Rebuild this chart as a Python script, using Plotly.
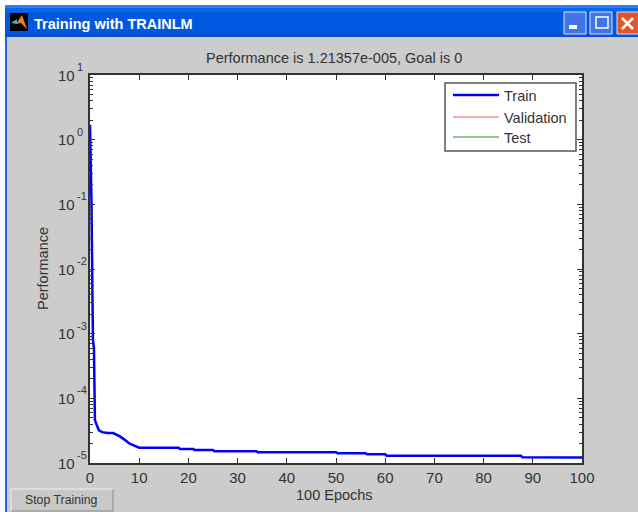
import plotly.graph_objects as go

epochs = [0, 0.3, 0.5, 0.6, 0.8, 0.9, 1, 1.4, 1.8, 2.5, 3.5, 4.7, 6, 7, 8, 9, 10, 18, 18.3, 21, 21.3, 25, 25.3, 33.8, 34.1, 50, 50.3, 56, 56.3, 60, 60.3, 87.6, 87.9, 100]
train = [1.7, 0.11, 0.004, 0.0008, 0.0006, 0.00007, 0.000046, 0.000038, 0.000032, 0.00003, 0.000029, 0.000029, 0.000026, 0.000023, 0.00002, 0.0000185, 0.00001724, 0.00001724, 0.00001646, 0.00001646, 0.00001589, 0.00001589, 0.00001517, 0.00001517, 0.00001464, 0.00001464, 0.00001413, 0.00001413, 0.00001363, 0.00001363, 0.00001297, 0.00001297, 0.00001225, 0.00001214]
legend_names = ["Train", "Validation", "Test"]
legend_colors = ["#0000ff", "#ff5555", "#338833"]
x_ticks = list(range(0, 101, 10))
y_powers = [1, 0, -1, -2, -3, -4, -5]
title = "Performance is 1.21357e-005, Goal is 0"
window_title = "Training with TRAINLM"

FONT = "Liberation Sans, Arial, sans-serif"
INK = "#333333"
W, H = 638, 512
def px(x): return x / W
def py(y): return 1 - y / H

minor = [m * 10 ** p for p in range(-5, 1) for m in range(2, 10)]
fig = go.Figure()
fig.add_trace(go.Scatter(x=epochs, y=train, mode="lines", line=dict(color="#0000ff", width=2.5),
                         showlegend=False, hoverinfo="skip", cliponaxis=False))

shapes = []
def rect(x0, y0, x1, y1, fill, line=None, width=0, layer="above"):
    shapes.append(dict(type="rect", xref="paper", yref="paper", x0=px(x0), x1=px(x1), y0=py(y0), y1=py(y1),
                       fillcolor=fill, line=dict(color=line or fill, width=width), layer=layer))
def seg(x0, y0, x1, y1, color, width=1.0):
    shapes.append(dict(type="line", xref="paper", yref="paper", x0=px(x0), x1=px(x1), y0=py(y0), y1=py(y1),
                       line=dict(color=color, width=width), layer="above"))

# window frame
rect(0, 0, 5, 512, "#ffffff")
rect(0, 0, 638, 5, "#ffffff")
rect(5, 5, 638, 37, "#0058e0")
rect(5, 5, 638, 8, "#2a80f0")
rect(5, 8, 638, 12, "#0a66ea")
rect(5, 34, 638, 37, "#0a4fd0")
rect(5, 37, 7, 512, "#1a68ee")
# app icon
rect(10, 13, 28, 31, "#000000")
shapes.append(dict(type="path", xref="paper", yref="paper", layer="above", line=dict(width=0), fillcolor="#f08020",
                   path=f"M {px(16)} {py(24)} L {px(22)} {py(15)} L {px(27)} {py(29)} L {px(21)} {py(23)} Z"))
shapes.append(dict(type="path", xref="paper", yref="paper", layer="above", line=dict(width=0), fillcolor="#50b0c8",
                   path=f"M {px(11)} {py(23)} L {px(17)} {py(19)} L {px(17)} {py(24)} Z"))
# window buttons
for x0, c in [(564, "#3f75e8"), (590, "#3f75e8"), (617, "#e0552c")]:
    rect(x0, 12, x0 + 22, 34, c, "#d8e4fa", 1)
rect(569, 25, 577, 29, "#ffffff")
rect(596, 17, 608, 28, "rgba(0,0,0,0)", "#ffffff", 1.5)
seg(622, 18, 633, 29, "#ffffff", 2.5)
seg(633, 18, 622, 29, "#ffffff", 2.5)

# legend box
rect(445, 83, 576, 151, "#ffffff", "#555555", 1.5)

annotations = []
def text(x, y, s, size, color=INK, anchor="left", **kw):
    annotations.append(dict(xref="paper", yref="paper", x=px(x), y=py(y), text=s, showarrow=False, borderpad=0,
                            xanchor=anchor, yanchor="middle", font=dict(family=FONT, size=size, color=color), **kw))

for name, color, yy, lw in zip(legend_names, legend_colors, [95, 117, 137], [2.5, 1.2, 1.2]):
    seg(453, yy, 499, yy, color, lw)
    text(503, yy + 1, name, 14.5)

text(334, 58, title, 14.5, anchor="center")
text(33, 24, f"<b>{window_title}</b>", 14.5, color="#ffffff")
text(43, 269, "Performance", 14.5, anchor="center", textangle=-90)
text(334, 495, "100 Epochs", 14.5, anchor="center")
rect(11, 489, 113, 511, "#c8c8c8", "#8a8a82", 1)
seg(11, 489, 113, 489, "#eeeeee", 1.5)
seg(11, 489, 11, 511, "#eeeeee", 1.5)
text(62, 500, "Stop Training", 12.3, anchor="center")

# decade labels: base and raised exponent, placed on the log axis by value
for p in y_powers:
    annotations.append(dict(xref="paper", yref="y", x=px(76), y=p, text="10", showarrow=False, xanchor="right",
                            borderpad=0, yanchor="middle", font=dict(family=FONT, size=15, color=INK)))
    annotations.append(dict(xref="paper", yref="y", x=px(76), y=p, yshift=8, text=str(p), showarrow=False, xanchor="left",
                            borderpad=0, yanchor="middle", font=dict(family=FONT, size=11, color=INK)))

fig.update_layout(
    width=W, height=H, margin=dict(l=0, r=0, t=0, b=0, pad=0, autoexpand=False),
    paper_bgcolor="#cccccc", plot_bgcolor="#ffffff",
    showlegend=False, shapes=shapes, annotations=annotations,
    font=dict(family=FONT, color=INK),
    xaxis=dict(domain=[px(90), px(582)], range=[0, 100], tickvals=x_ticks, ticks="inside", ticklen=5, tickcolor=INK,
               showgrid=False, zeroline=False, showline=True, linecolor=INK, linewidth=1.5, mirror="ticks",
               tickfont=dict(size=15, color=INK)),
    yaxis=dict(domain=[py(463), py(75)], type="log", range=[-5, 1],
               tickvals=[10.0 ** p for p in y_powers], showticklabels=False,
               ticks="inside", ticklen=5, tickcolor=INK,
               minor=dict(tickvals=minor, ticks="inside", ticklen=3, tickcolor=INK),
               showgrid=False, zeroline=False, showline=True, linecolor=INK, linewidth=1.5, mirror="ticks"),
)
fig.write_html("out.html", config={"displayModeBar": False},
               post_script="document.body.style.margin='0';document.body.style.overflow='hidden';")
